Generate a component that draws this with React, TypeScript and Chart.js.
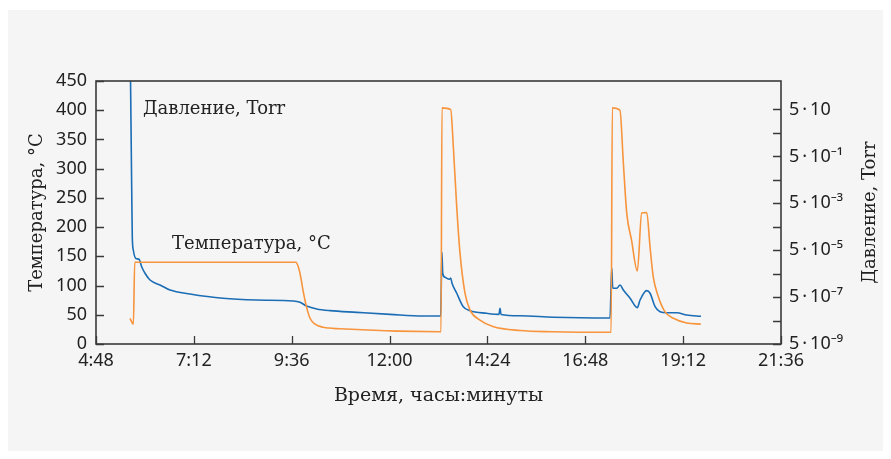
import React, { useEffect, useRef } from "react";
import { Chart, registerables } from "chart.js";

Chart.register(...registerables);

// Time in minutes since midnight
const timeTickValues = [288, 432, 576, 720, 864, 1008, 1152, 1296];
const timeTickLabels = ["4:48", "7:12", "9:36", "12:00", "14:24", "16:48", "19:12", "21:36"];

const tempTimes = [338, 343, 345, 582, 585.7, 589.2, 593, 597, 603, 610.3, 622.5, 647, 794, 795.7, 797.1, 810, 813.8, 818.8, 823.6, 831, 838.4, 853, 872, 912, 960, 1044.4, 1046, 1047.8, 1059, 1064, 1069, 1076, 1084.6, 1091, 1098.4, 1103.3, 1108, 1115.5, 1125.4, 1137.6, 1157.3, 1178];
const tempValues = [44, 34, 140, 140, 132, 115, 89.5, 67, 44, 34, 28.5, 26, 21, 21, 404, 401, 338, 235, 156, 87, 58, 41, 30, 23, 21, 20, 20, 404, 400, 310, 224, 178, 125, 224, 225, 166, 115, 81, 55, 44, 36, 34];

const pressureTimes = [338.8, 340.5, 341.4, 342.9, 346.4, 351.3, 355.2, 360.1, 367.5, 382.2, 396.9, 426.3, 474.9, 524.5, 578.3, 588.2, 598, 612.8, 632.3, 671.6, 720.6, 769.2, 795.2, 797.1, 798.2, 801.5, 807.9, 810, 811.9, 818.8, 828.5, 838.4, 862.9, 881, 882.5, 884, 911.9, 960.9, 1044.4, 1046.9, 1048.4, 1054.3, 1059.1, 1064, 1073.9, 1084.6, 1088.6, 1098.4, 1103.3, 1110.7, 1118, 1127.9, 1142.6, 1157.3, 1178.3];
const pressureValues = [1000, 2.55e-2, 1.88e-4, 5.1e-5, 2.26e-5, 2.05e-5, 9.9e-6, 5.2e-6, 2.68e-6, 1.64e-6, 1.0e-6, 6.8e-7, 4.45e-7, 3.76e-7, 3.41e-7, 3.0e-7, 2.08e-7, 1.56e-7, 1.32e-7, 1.12e-7, 9.2e-8, 7.8e-8, 7.8e-8, 4.06e-5, 5.2e-6, 3.5e-6, 2.87e-6, 3.27e-6, 1.94e-6, 7.3e-7, 1.95e-7, 1.32e-7, 1.02e-7, 9.2e-8, 1.66e-7, 9.1e-8, 8.0e-8, 6.9e-8, 6.4e-8, 9.0e-6, 1.19e-6, 1.19e-6, 1.64e-6, 1.0e-6, 4.45e-7, 1.77e-7, 3.76e-7, 9.4e-7, 7.3e-7, 1.95e-7, 1.19e-7, 1.08e-7, 1.08e-7, 8.6e-8, 7.6e-8];

const pressureTickValues = [5e-9, 5e-8, 5e-7, 5e-6, 5e-5, 5e-4, 5e-3, 5e-2, 5e-1, 5e0, 5e1];
const pressureTickLabels = ["5\u2009·\u200910⁻⁹", "", "5\u2009·\u200910⁻⁷", "", "5\u2009·\u200910⁻⁵", "", "5\u2009·\u200910⁻³", "", "5\u2009·\u200910⁻¹", "", "5\u2009·\u200910"];

const tempAxisTitle = "Температура, °C";
const pressureAxisTitle = "Давление, Torr";
const timeAxisTitle = "Время, часы:минуты";
const pressureLabel = "Давление, Torr";
const tempLabel = "Температура, °C";

const TICK_FONT = { family: "'Noto Sans', sans-serif", size: 18 };
const TITLE_FONT = "18px 'DejaVu Serif', serif";

const decor = {
  id: "decor",
  afterDraw(chart: any) {
    const { ctx, chartArea: a, scales } = chart;
    ctx.save();
    ctx.strokeStyle = "#3a3a3a";
    ctx.lineWidth = 1.3;
    const L = 8;
    ctx.beginPath();
    scales.x.ticks.forEach((t: any) => {
      const px = Math.round(scales.x.getPixelForValue(t.value)) + 0.5;
      ctx.moveTo(px, a.bottom);
      ctx.lineTo(px, a.bottom - L);
    });
    scales.y.ticks.forEach((t: any) => {
      const py = Math.round(scales.y.getPixelForValue(t.value)) + 0.5;
      ctx.moveTo(a.left, py);
      ctx.lineTo(a.left + L, py);
    });
    scales.y1.ticks.forEach((t: any) => {
      const py = Math.round(scales.y1.getPixelForValue(t.value)) + 0.5;
      ctx.moveTo(a.right, py);
      ctx.lineTo(a.right - L, py);
    });
    ctx.stroke();
    ctx.lineWidth = 1.6;
    ctx.strokeRect(a.left, a.top, a.right - a.left, a.bottom - a.top);

    ctx.fillStyle = "#222";
    ctx.font = TITLE_FONT;
    ctx.textBaseline = "middle";
    ctx.textAlign = "left";
    ctx.fillText(pressureLabel, scales.x.getPixelForValue(357), scales.y.getPixelForValue(402));
    ctx.fillText(tempLabel, scales.x.getPixelForValue(400), scales.y.getPixelForValue(171));

    ctx.translate(862, (a.top + a.bottom) / 2);
    ctx.rotate(-Math.PI / 2);
    ctx.textAlign = "center";
    ctx.fillText(pressureAxisTitle, 0, 0);
    ctx.restore();
  },
};

export default function App() {
  const ref = useRef<HTMLCanvasElement>(null);
  useEffect(() => {
    if (!ref.current) return;
    const chart = new Chart(ref.current, {
      type: "line",
      data: {
        datasets: [
          {
            label: "T",
            data: tempTimes.map((t, i) => ({ x: t, y: tempValues[i] })),
            borderColor: "#f7943c",
            borderWidth: 1.6,
            pointRadius: 0,
            yAxisID: "y",
            cubicInterpolationMode: "monotone",
          },
          {
            label: "P",
            data: pressureTimes.map((t, i) => ({ x: t, y: pressureValues[i] })),
            borderColor: "#1b6db5",
            borderWidth: 1.6,
            pointRadius: 0,
            yAxisID: "y1",
            cubicInterpolationMode: "monotone",
          },
        ],
      },
      options: {
        animation: false,
        responsive: false,
        layout: { padding: { top: 71, left: 0, right: 0, bottom: 0 } },
        plugins: { legend: { display: false }, tooltip: { enabled: false } },
        scales: {
          x: {
            type: "linear",
            position: "bottom",
            min: 288,
            max: 1296,
            afterBuildTicks: (s: any) => {
              s.ticks = timeTickValues.map((v) => ({ value: v }));
            },
            ticks: {
              autoSkip: false,
              maxRotation: 0,
              padding: 6,
              color: "#222",
              font: TICK_FONT,
              callback: (_v: any, i: number) => timeTickLabels[i],
            },
            grid: { display: false, drawTicks: false },
            border: { display: false },
            title: {
              display: true,
              text: timeAxisTitle,
              color: "#222",
              font: { family: "'DejaVu Serif', serif", size: 19 },
              padding: { top: 0, bottom: 44 },
            },
            afterFit: (s: any) => {
              s.height = 107;
            },
          },
          y: {
            type: "linear",
            position: "left",
            min: 0,
            max: 450,
            ticks: { stepSize: 50, padding: 9, color: "#222", font: TICK_FONT },
            grid: { display: false, drawTicks: false },
            border: { display: false },
            title: {
              display: true,
              text: tempAxisTitle,
              color: "#222",
              font: { family: "'DejaVu Serif', serif", size: 18 },
              padding: { top: 19, bottom: 0 },
            },
            afterFit: (s: any) => {
              s.width = 88;
            },
          },
          y1: {
            type: "logarithmic",
            position: "right",
            min: 5e-9,
            max: 820,
            afterBuildTicks: (s: any) => {
              s.ticks = pressureTickValues.map((v) => ({ value: v }));
            },
            ticks: {
              autoSkip: false,
              padding: 8,
              color: "#222",
              font: TICK_FONT,
              callback: (_v: any, i: number) => pressureTickLabels[i],
            },
            grid: { display: false, drawTicks: false },
            border: { display: false },
            afterFit: (s: any) => {
              s.width = 102;
            },
          },
        },
      },
      plugins: [decor],
    });
    return () => chart.destroy();
  }, []);
  return (
    <canvas
      ref={ref}
      width={875}
      height={441}
      style={{ display: "block", marginTop: 2, width: 875, height: 441, background: "#f5f5f5" }}
    />
  );
}
